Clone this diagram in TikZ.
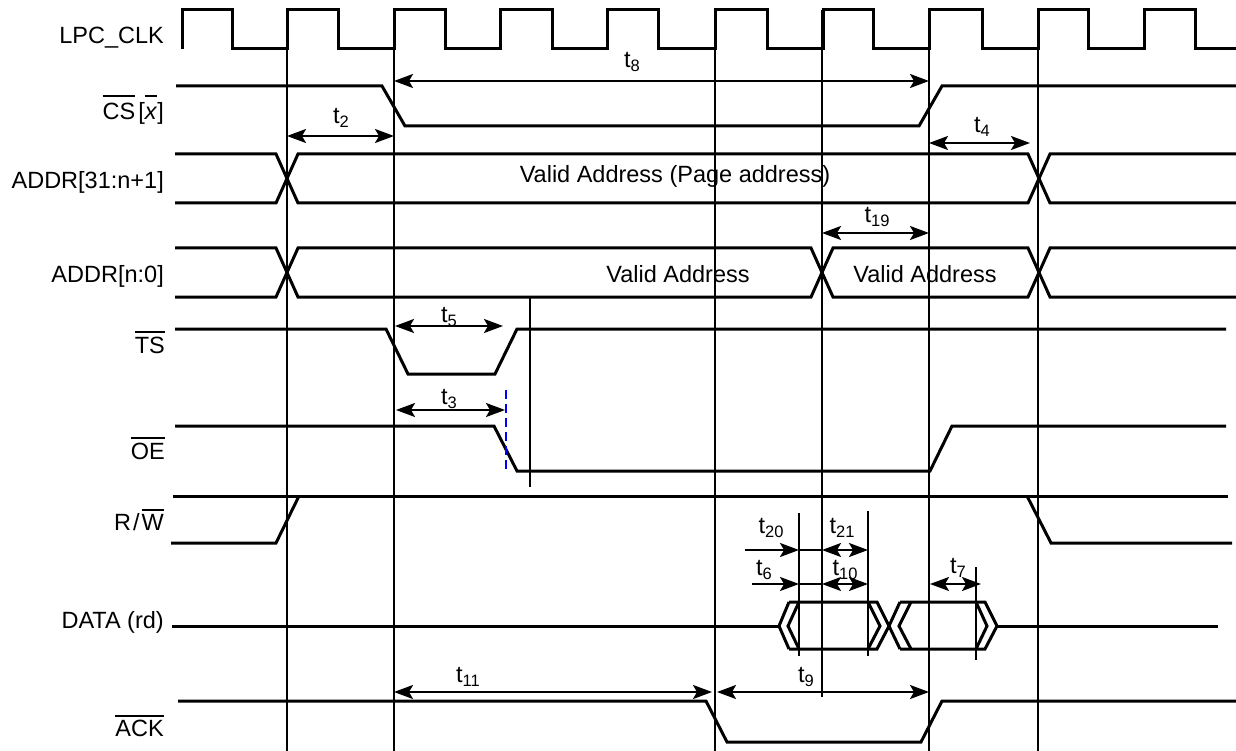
\documentclass[tikz,border=0pt]{standalone}
\usepackage{fontspec}
\setmainfont{Liberation Sans}
\usetikzlibrary{arrows.meta}
\definecolor{tsblue}{RGB}{0,0,255}
\tikzstyle{sig} = [line width=3pt]
\tikzstyle{vline} = [line width=2pt]
\tikzstyle{span} = [line width=2pt, {Stealth[length=19pt,width=14pt,inset=4pt]}-{Stealth[length=19pt,width=14pt,inset=4pt]}]
\tikzstyle{towards} = [line width=2pt, -{Stealth[length=19pt,width=14pt,inset=4pt]}]
\tikzstyle{lbl} = [anchor=base east, inner sep=0pt]
\tikzstyle{tlbl} = [anchor=base, inner sep=0pt]
\newcommand{\tsub}[1]{t\raisebox{-4pt}{\fontsize{16.5}{16.5}\selectfont #1}}
\newcommand{\ovl}[2][3.5pt]{\vbox{\hrule height 1.8pt\kern#1\hbox{#2}}}

\begin{document}
\begin{tikzpicture}[x=1pt, y=-1pt, font=\fontsize{23.5}{28}\selectfont]
\useasboundingbox (0,0) rectangle (1236,751);

% Clock
\draw[sig] (182,49)
  foreach \r/\f in {182/232,287/338,394/445,500/552,607/658,715/767,823/873,929/982,1038/1088,1144/1195}
  { -- (\r,49) -- (\r,10) -- (\f,10) -- (\f,49) } -- (1236,49);

% Reference lines
\foreach \x in {287,394,715,929,1038}
  \draw[vline] (\x,10) -- (\x,751);
\draw[vline] (822,10) -- (822,697);
\draw[vline] (530,297) -- (530,487);
\draw[vline] (799,513) -- (799,656);
\draw[vline] (868,511) -- (868,656);
\draw[vline] (976,567) -- (976,660);

% CS
\draw[sig] (176,86) -- (382,86) -- (405,126) -- (919,126) -- (942,86) -- (1236,86);

% ADDR[31:n+1]
\draw[sig] (175,154) -- (276,154) -- (298,203) -- (1028,203) -- (1050,154) -- (1236,154);
\draw[sig] (175,203) -- (276,203) -- (298,154) -- (1028,154) -- (1050,203) -- (1236,203);

% ADDR[n:0]
\draw[sig] (175,248) -- (276,248) -- (298,297) -- (811,297) -- (833,248) -- (1028,248) -- (1050,297) -- (1236,297);
\draw[sig] (175,297) -- (276,297) -- (298,248) -- (811,248) -- (833,297) -- (1028,297) -- (1050,248) -- (1236,248);

% TS and OE
\draw[sig] (175,329) -- (386,329) -- (408,374) -- (495,374) -- (517,329) -- (1226,329);
\draw[sig] (175,426) -- (494,426) -- (517,471) -- (930,471) -- (952,426) -- (1226,426);
\draw[line width=2.5pt, tsblue, dash pattern=on 9pt off 5pt] (506,390) -- (506,473);

% R/W
\draw[sig] (173,496) -- (1228,496);
\draw[sig] (171,543) -- (276,543) -- (299,496);
\draw[sig] (1027,496) -- (1051,543) -- (1232,543);

% DATA
\draw[sig] (172,626) -- (779,626);
\draw[sig] (789,602) -- (779,626) -- (789,649);
\draw[sig] (799,602) -- (788,626) -- (799,649);
\draw[sig] (789,602) -- (877,602) -- (889,626) -- (877,649) -- (789,649);
\draw[sig] (868,602) -- (880,626) -- (868,649);
\draw[sig] (900,602) -- (889,626) -- (900,649);
\draw[sig] (911,602) -- (899,626) -- (911,649);
\draw[sig] (900,602) -- (985,602) -- (997,626) -- (985,649) -- (900,649);
\draw[sig] (976,602) -- (987,626) -- (976,649);
\draw[sig] (997,626) -- (1218,626);

% ACK
\draw[sig] (178,701) -- (706,701) -- (727,742) -- (921,742) -- (942,701) -- (1236,701);

% Timing arrows
\draw[span] (394,81) -- (929,81);
\draw[span] (287,136) -- (394,136);
\draw[span] (929,143) -- (1030,143);
\draw[span] (822,233) -- (929,233);
\draw[span] (395,326) -- (503,326);
\draw[span] (396,410) -- (505,410);
\draw[towards] (745,550) -- (799,550);
\draw[vline] (799,550) -- (822,550);
\draw[span] (822,550) -- (868,550);
\draw[towards] (752,584) -- (799,584);
\draw[vline] (799,584) -- (822,584);
\draw[span] (822,584) -- (868,584);
\draw[span] (930,584) -- (981,584);
\draw[span] (394,692) -- (712,692);
\draw[span] (717,692) -- (929,692);

% Timing labels
\node[tlbl] (t8) at (632,68) {\tsub{8}};
\node[tlbl] (t2) at (341,124) {\tsub{2}};
\node[tlbl] (t4) at (982,133) {\tsub{4}};
\node[tlbl] (t19) at (877,223) {\tsub{19}};
\node[tlbl] (t5) at (449,322) {\tsub{5}};
\node[tlbl] (t3) at (449,404) {\tsub{3}};
\node[tlbl] (t20) at (771,533) {\tsub{20}};
\node[tlbl] (t21) at (842,533) {\tsub{21}};
\node[tlbl] (t6) at (764,575) {\tsub{6}};
\node[tlbl] (t10) at (845,575) {\tsub{10}};
\node[tlbl] (t7) at (958,573) {\tsub{7}};
\node[tlbl] (t11) at (468,682) {\tsub{11}};
\node[tlbl] (t9) at (806,682) {\tsub{9}};

% Bus values
\node[tlbl] (pageaddr) at (675,183) {Valid Address (Page address)};
\node[tlbl] (addr1) at (678,283) {Valid Address};
\node[tlbl] (addr2) at (925,283) {Valid Address};

% Signal names
\node[lbl] (clk) at (164,44) {LPC\_CLK};
\node[lbl] (cs) at (164,120) {\ovl[7pt]{CS}\kern3pt[\ovl[7pt]{\vphantom{C}\textit{x}}]};
\node[lbl] (addrhi) at (164,189) {ADDR[31:n+1]};
\node[lbl] (addrlo) at (164,283) {ADDR[n:0]};
\node[lbl] (ts) at (165,353) {\ovl{TS}};
\node[lbl] (oe) at (165,459) {\ovl{OE}};
\node[lbl] (rw) at (164,530) {R\kern2pt/\kern2pt\ovl[3pt]{W}};
\node[lbl] (data) at (164,628) {DATA (rd)};
\node[lbl] (ack) at (164,736) {\ovl[3pt]{ACK}};
\end{tikzpicture}
\end{document}
